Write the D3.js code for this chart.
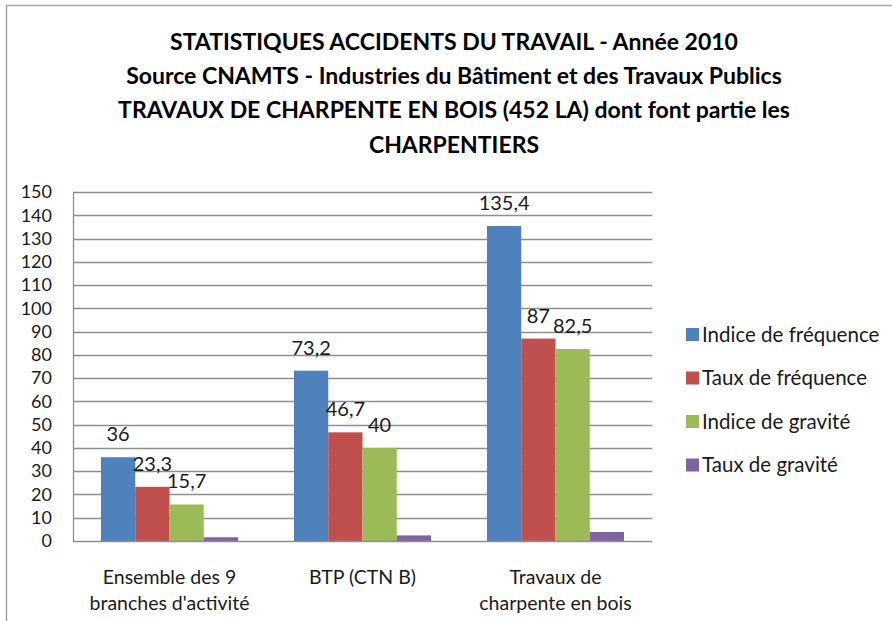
<!DOCTYPE html>
<html>
<head>
<meta charset="utf-8">
<script src="https://cdn.jsdelivr.net/npm/d3@7"></script>
<style>
  body { margin: 0; background: #fff; }
  text { font-family: Lato, "Open Sans", sans-serif; }
</style>
</head>
<body>
<svg id="chart" width="892" height="621"></svg>
<script>
// données
var categories = [["Ensemble des 9", "branches d'activité"], ["BTP (CTN B)"], ["Travaux de", "charpente en bois"]];
var series = ["Indice de fréquence", "Taux de fréquence", "Indice de gravité", "Taux de gravité"];
var indiceFrequence = [36, 73.2, 135.4];
var tauxFrequence = [23.3, 46.7, 87];
var indiceGravite = [15.7, 40, 82.5];
var tauxGravite = [1.6, 2.4, 3.9];
var yTicks = [0, 10, 20, 30, 40, 50, 60, 70, 80, 90, 100, 110, 120, 130, 140, 150];
var titleLines = [
  "STATISTIQUES ACCIDENTS DU TRAVAIL - Année 2010",
  "Source CNAMTS - Industries du Bâtiment et des Travaux Publics",
  "TRAVAUX DE CHARPENTE EN BOIS (452 LA) dont font partie les",
  "CHARPENTIERS"
];
var colors = ["#4f81bd", "#c0504d", "#9bbb59", "#8064a2"];
var showLabel = [true, true, true, false];

var values = [indiceFrequence, tauxFrequence, indiceGravite, tauxGravite];

var svg = d3.select("#chart");

// cadre extérieur
svg.append("path")
  .attr("d", "M6.5,621 V5.5 H892")
  .attr("fill", "none")
  .attr("stroke", "#a6a6a6")
  .attr("stroke-width", 1.5);

// titre
svg.append("g").selectAll("text")
  .data(titleLines)
  .enter()
  .append("text")
    .attr("x", 454)
    .attr("y", (d, i) => 50 + i * 34.2)
    .attr("text-anchor", "middle")
    .attr("font-size", 23)
    .attr("font-weight", "bold")
    .attr("fill", "#000")
    .text(d => d);

var plotLeft = 73, plotRight = 652, plotTop = 192, plotBottom = 541;

var y = d3.scaleLinear().domain([0, 150]).range([plotBottom, plotTop]);
var x0 = d3.scaleBand().domain(d3.range(categories.length)).range([plotLeft, plotRight]);
var bw = x0.bandwidth();
var x1 = d3.scaleBand().domain(d3.range(series.length)).range([bw * 0.145, bw * 0.855]);

// grille
svg.append("g").selectAll("line")
  .data(yTicks.slice(1))
  .enter()
  .append("line")
    .attr("x1", plotLeft)
    .attr("x2", plotRight)
    .attr("y1", d => Math.round(y(d)) + 0.5)
    .attr("y2", d => Math.round(y(d)) + 0.5)
    .attr("stroke", "#8e8e8e")
    .attr("stroke-width", 1.3);

// axe Y
var yAxis = svg.append("g")
  .attr("transform", `translate(${plotLeft},0)`)
  .call(d3.axisLeft(y).tickValues(yTicks).tickSize(0).tickPadding(21).tickFormat(d3.format("d")));
yAxis.select(".domain").attr("stroke", "#8e8e8e").attr("stroke-width", 1.3);
yAxis.selectAll("text")
  .attr("font-size", 18)
  .attr("fill", "#1a1a1a")
  .style("font-family", "Lato, sans-serif");

// barres
var groups = svg.append("g").selectAll("g")
  .data(categories)
  .enter()
  .append("g")
    .attr("transform", (d, i) => `translate(${x0(i)},0)`);

groups.selectAll("rect")
  .data((d, i) => values.map((v, s) => ({ s: s, v: v[i] })))
  .enter()
  .append("rect")
    .attr("x", d => x1(d.s))
    .attr("width", x1.bandwidth())
    .attr("y", d => y(d.v))
    .attr("height", d => plotBottom - y(d.v))
    .attr("fill", d => colors[d.s]);

groups.selectAll("text.lbl")
  .data((d, i) => values.map((v, s) => ({ s: s, v: v[i] })).filter(d => showLabel[d.s]))
  .enter()
  .append("text")
    .attr("class", "lbl")
    .attr("x", d => x1(d.s) + x1.bandwidth() / 2)
    .attr("y", d => y(d.v) - 16)
    .attr("text-anchor", "middle")
    .attr("font-size", 20)
    .attr("fill", "#1a1a1a")
    .text(d => d3.format(".1~f")(d.v).replace(".", ","));

// axe X
svg.append("line")
  .attr("x1", plotLeft).attr("x2", plotRight)
  .attr("y1", plotBottom + 0.5).attr("y2", plotBottom + 0.5)
  .attr("stroke", "#8e8e8e")
  .attr("stroke-width", 1.3);

var xl = svg.append("g").selectAll("text")
  .data(categories)
  .enter()
  .append("text")
    .attr("x", (d, i) => x0(i) + bw / 2)
    .attr("y", 584)
    .attr("text-anchor", "middle")
    .attr("font-size", 19.5)
    .attr("fill", "#1a1a1a");
xl.selectAll("tspan")
  .data(d => d)
  .enter()
  .append("tspan")
    .attr("x", function () { return d3.select(this.parentNode).attr("x"); })
    .attr("dy", (d, i) => i === 0 ? 0 : 26)
    .text(d => d);

// légende
var legend = svg.append("g").selectAll("g")
  .data(series)
  .enter()
  .append("g")
    .attr("transform", (d, i) => `translate(686,${334.5 + i * 43.5})`);
legend.append("rect")
  .attr("x", 0).attr("y", -6.5)
  .attr("width", 13).attr("height", 13)
  .attr("fill", (d, i) => colors[i]);
legend.append("text")
  .attr("x", 16).attr("y", 7)
  .attr("font-size", 20.5)
  .attr("fill", "#1a1a1a")
  .text(d => d);
</script>
</body>
</html>
